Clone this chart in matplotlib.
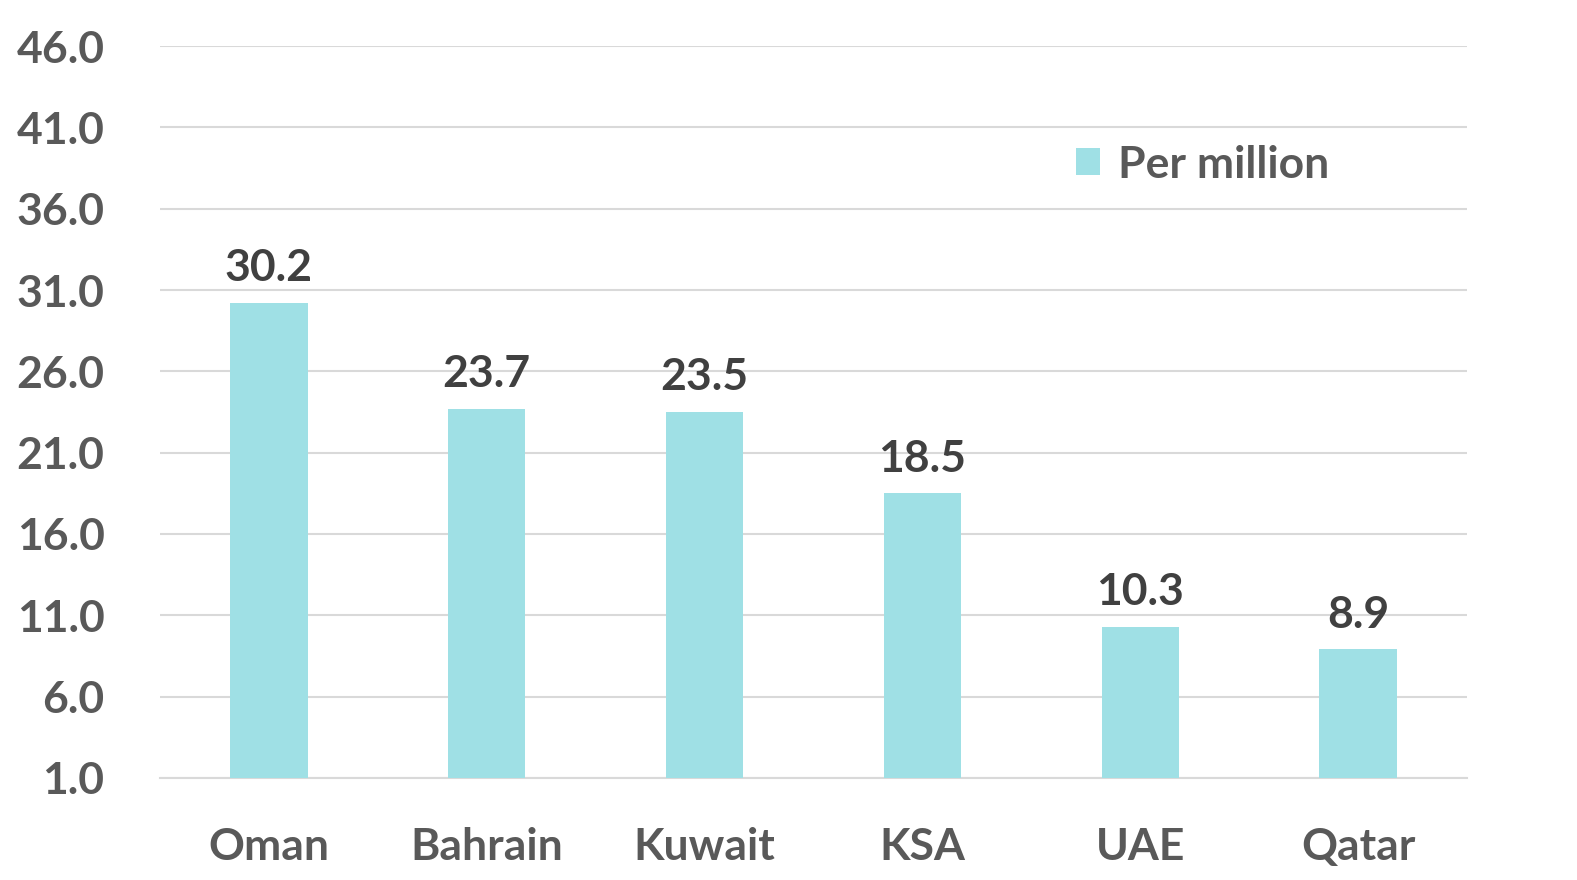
import matplotlib.pyplot as plt
import numpy as np

# Data
countries = ["Oman", "Bahrain", "Kuwait", "KSA", "UAE", "Qatar"]
per_million = [30.2, 23.7, 23.5, 18.5, 10.3, 8.9]
yticks = [1.0, 6.0, 11.0, 16.0, 21.0, 26.0, 31.0, 36.0, 41.0, 46.0]

bar_color = "#9FE0E5"
tick_color = "#595959"
value_color = "#404040"
base = 1.0
fs = 32

plt.rcParams['font.family'] = ['Lato', 'DejaVu Sans']
plt.rcParams['font.weight'] = 'bold'

fig = plt.figure(figsize=(15.77, 8.8), dpi=100)
ax = fig.add_axes([160 / 1577, 1 - 778 / 880, (1467 - 160) / 1577, (778 - 46) / 880])

x = np.arange(len(countries))
heights = [v - base for v in per_million]
ax.bar(x, heights, bottom=base, width=0.355, color=bar_color,
       label="Per million", zorder=3)

# value labels above bars
for xi, v in zip(x, per_million):
    ax.text(xi, v + 0.9, f"{v:.1f}", ha="center", va="bottom",
            fontsize=fs, fontweight="bold", color=value_color)

ax.set_xlim(-0.5, len(countries) - 0.5)
ax.set_ylim(1.0, 46.0)
ax.set_yticks(yticks)
ax.set_yticklabels([f"{t:.1f}" for t in yticks])
ax.set_xticks(x)
ax.set_xticklabels(countries)

ax.grid(axis="y", color="#D9D9D9", linewidth=1.5, zorder=0)
for s in ["top", "right", "left"]:
    ax.spines[s].set_visible(False)
ax.spines["bottom"].set_color("#D9D9D9")
ax.spines["bottom"].set_linewidth(1.5)

ax.tick_params(axis="y", length=0, pad=40, labelsize=fs, labelcolor=tick_color)
ax.tick_params(axis="x", length=0, pad=35, labelsize=fs, labelcolor=tick_color)

leg = ax.legend(loc="center left", bbox_to_anchor=(0.67, 0.838), frameon=False,
                fontsize=fs, handlelength=0.55, handleheight=0.55,
                handletextpad=0.4)
for t in leg.get_texts():
    t.set_color(tick_color)

fig.savefig("out.png", dpi=100)
